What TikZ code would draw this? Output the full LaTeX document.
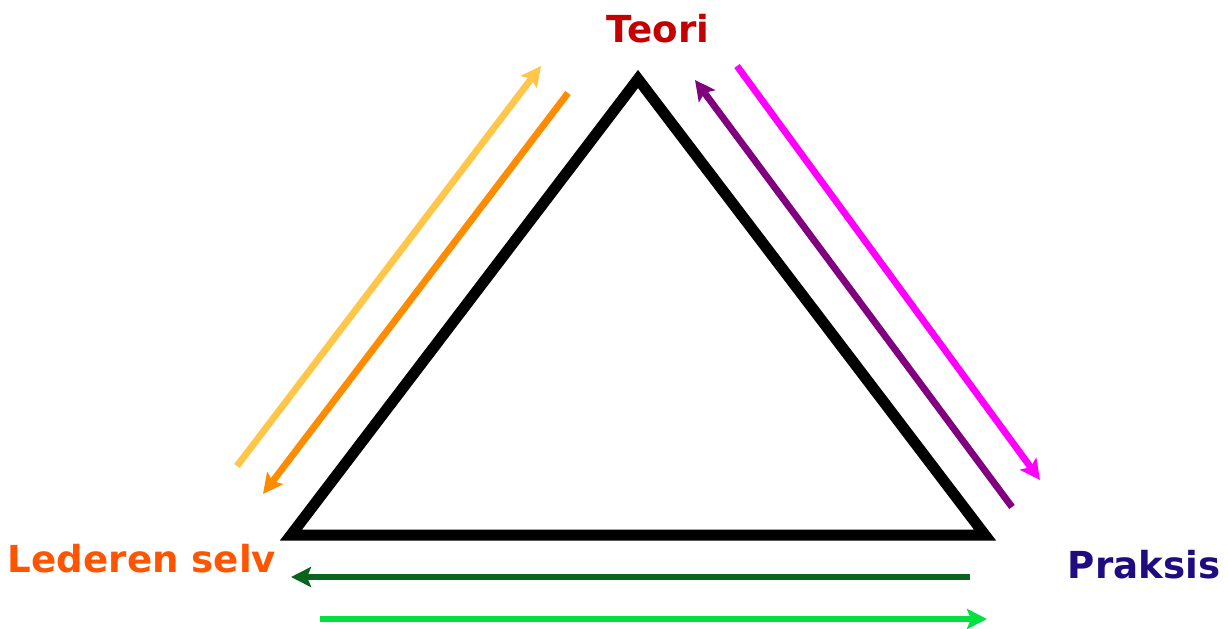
\documentclass[tikz,border=0pt]{standalone}
\usepackage{fontspec}
\setmainfont{DejaVu Sans}
\definecolor{tdred}{RGB}{196,0,0}
\definecolor{tdorange}{RGB}{255,85,0}
\definecolor{tdnavy}{RGB}{32,12,128}
\definecolor{tdlight}{RGB}{255,198,74}
\definecolor{tdamber}{RGB}{255,140,0}
\definecolor{tdpurple}{RGB}{128,0,128}
\definecolor{tdmagenta}{RGB}{255,0,255}
\definecolor{tddkgreen}{RGB}{10,100,30}
\definecolor{tdgreen}{RGB}{0,225,64}
\usetikzlibrary{arrows.meta}

\begin{document}
\begin{tikzpicture}[x=0.5pt,y=-0.5pt,
    flow/.style={line width=3.4pt, -{Stealth[length=10pt,width=10pt,inset=2pt]}},
    lbl/.style={font=\fontsize{18.6}{21}\selectfont\bfseries, anchor=base, inner sep=0pt}]
  \useasboundingbox (0,0) rectangle (1228,628);
  % Triangle
  \coordinate (top) at (638,79);
  \coordinate (bl) at (291,535);
  \coordinate (br) at (985,535);
  \draw[line width=5.5pt, miter limit=10] (top) -- (br) -- (bl) -- cycle;
  % Labels
  \node[lbl, text=tdred] (teori) at (658,42) {Teori};
  \node[lbl, text=tdorange] (leder) at (142,572) {Lederen selv};
  \node[lbl, text=tdnavy] (praksis) at (1144,578) {Praksis};
  % Left side arrows
  \coordinate (l1a) at (237,466); \coordinate (l1b) at (541,66);
  \coordinate (l2a) at (568,93);  \coordinate (l2b) at (263,494);
  \draw[flow, tdlight] (l1a) -- (l1b);
  \draw[flow, tdamber] (l2a) -- (l2b);
  % Right side arrows
  \coordinate (r1a) at (1012,507); \coordinate (r1b) at (695,80);
  \coordinate (r2a) at (737,66);   \coordinate (r2b) at (1040,480);
  \draw[flow, tdpurple] (r1a) -- (r1b);
  \draw[flow, tdmagenta] (r2a) -- (r2b);
  % Bottom arrows
  \coordinate (b1a) at (970,577); \coordinate (b1b) at (291,577);
  \coordinate (b2a) at (320,619); \coordinate (b2b) at (987,619);
  \draw[flow, tddkgreen] (b1a) -- (b1b);
  \draw[flow, tdgreen] (b2a) -- (b2b);
\end{tikzpicture}
\end{document}
